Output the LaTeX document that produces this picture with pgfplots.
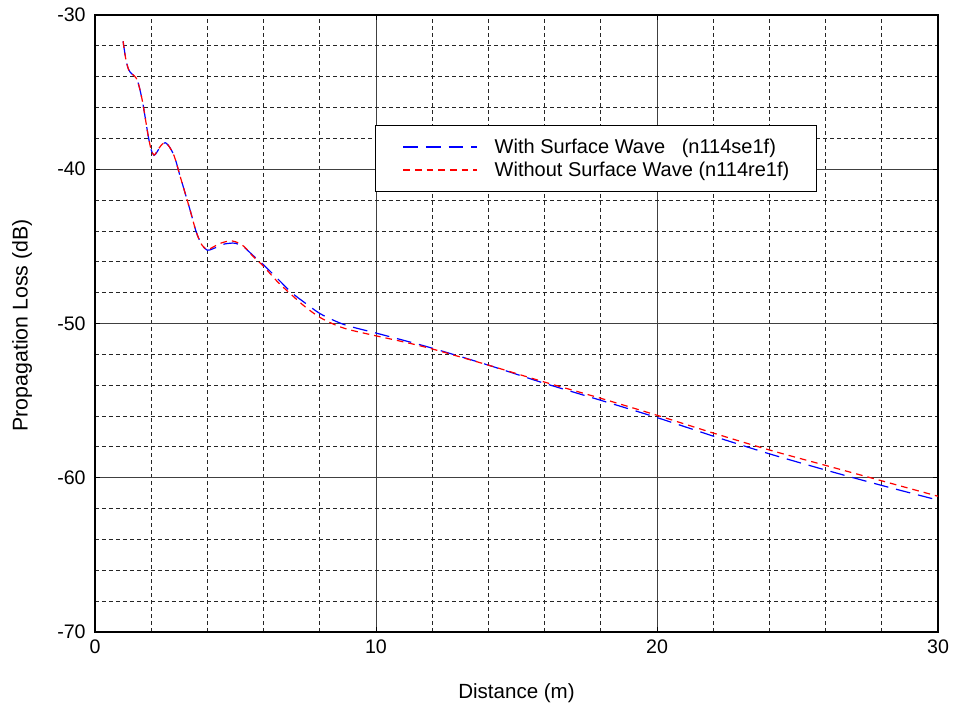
\documentclass[border=0pt]{standalone}
\usepackage{fontspec}
\setmainfont{Liberation Sans}
\usepackage{pgfplots}
\pgfplotsset{compat=1.18}

% Propagation loss versus distance, with and without the surface wave term
\pgfplotstableread{
x y
1.0 -31.7
1.1 -32.9
1.2 -33.55
1.3 -33.8
1.4 -33.95
1.5 -34.2
1.6 -34.85
1.7 -35.7
1.8 -36.8
1.9 -37.9
2.0 -38.75
2.1 -39.1
2.2 -38.9
2.3 -38.6
2.4 -38.35
2.5 -38.28
2.6 -38.43
2.7 -38.7
2.8 -39.06
2.9 -39.6
3.0 -40.27
3.2 -41.5
3.4 -42.75
3.6 -44.05
3.8 -44.9
4.0 -45.25
4.2 -45.15
4.4 -45.0
4.6 -44.85
4.8 -44.8
5.0 -44.8
5.3 -45.05
5.6 -45.55
6.0 -46.2
6.5 -47.1
7.0 -48.0
7.5 -48.7
8.0 -49.35
8.5 -49.8
9.0 -50.15
10.0 -50.62
11.0 -51.1
12.0 -51.6
14.0 -52.7
16.0 -53.88
18.0 -54.98
20.0 -56.1
22.0 -57.3
24.0 -58.45
26.0 -59.5
28.0 -60.5
30.0 -61.45
}\withsw

\pgfplotstableread{
x y
1.0 -31.7
1.1 -32.9
1.2 -33.55
1.3 -33.8
1.4 -33.95
1.5 -34.2
1.6 -34.85
1.7 -35.7
1.8 -36.8
1.9 -37.9
2.0 -38.75
2.1 -39.08
2.2 -38.86
2.3 -38.58
2.4 -38.36
2.5 -38.28
2.6 -38.43
2.7 -38.7
2.8 -39.06
2.9 -39.6
3.0 -40.27
3.2 -41.5
3.4 -42.75
3.6 -44.05
3.8 -44.9
4.0 -45.2
4.2 -45.05
4.4 -44.85
4.6 -44.72
4.8 -44.65
5.0 -44.7
5.3 -45.0
5.6 -45.6
6.0 -46.3
6.5 -47.3
7.0 -48.15
7.5 -48.95
8.0 -49.6
8.5 -50.05
9.0 -50.38
10.0 -50.8
11.0 -51.2
12.0 -51.65
14.0 -52.7
16.0 -53.8
18.0 -54.85
20.0 -55.95
22.0 -57.1
24.0 -58.2
26.0 -59.2
28.0 -60.2
30.0 -61.2
}\withoutsw

\begin{document}
\begin{tikzpicture}
\useasboundingbox (-71.25pt,-57.75pt) rectangle (643.5pt,474pt);
\begin{axis}[
  at={(0pt,0pt)}, anchor=south west,
  scale only axis, width=632.25pt, height=462.75pt,
  xmin=0, xmax=30, ymin=-70, ymax=-30,
  xtick={0,10,20,30}, xticklabels={0,10,20,30},
  ytick={-70,-60,-50,-40,-30}, yticklabels={-70,-60,-50,-40,-30},
  minor xtick={2,4,6,8,12,14,16,18,22,24,26,28},
  minor ytick={-68,-66,-64,-62,-58,-56,-54,-52,-48,-46,-44,-42,-38,-36,-34,-32},
  grid=both,
  major grid style={black!75, line width=0.6pt},
  minor grid style={black!85, dash pattern=on 3pt off 2.25pt, line width=0.6pt},
  axis line style={black, line width=1.1pt},
  tick style={black, line width=0.6pt},
  major tick length=4pt, minor tick length=0pt,
  tick align=inside,
  ticklabel style={font=\fontsize{14.7}{16}\selectfont},
  yticklabel style={xshift=-3.5pt},
  xticklabel style={yshift=-2pt},
  xlabel={Distance (m)},
  ylabel={Propagation Loss (dB)},
  xlabel style={font=\fontsize{15.4}{17}\selectfont,
    at={(axis description cs:0.5,-0.099)}, anchor=center},
  ylabel style={font=\fontsize{16}{18}\selectfont,
    at={(axis description cs:-0.0866,0.497)}, anchor=center},
  legend image code/.code={\draw[#1] (0pt,0pt) -- (55pt,0pt);},
  legend cell align=left,
  legend style={at={(0.332,0.8217)}, anchor=north west,
    draw=black, fill=white,
    font=\fontsize{15}{17}\selectfont,
    inner xsep=20.5pt, inner ysep=10pt, row sep=5pt,
    nodes={inner sep=0pt},
    /tikz/every odd column/.append style={column sep=13pt}},
]
\addlegendimage{draw=blue, line width=1.2pt, dash pattern=on 11pt off 6pt}
\addlegendentry{With Surface Wave\ \ \ (n114se1f)}
\addlegendimage{draw=red, line width=1.2pt, dash pattern=on 5pt off 3.75pt}
\addlegendentry{Without Surface Wave (n114re1f)}
\addplot[forget plot, blue, line width=0.9pt, dash pattern=on 11pt off 6pt, smooth, tension=0.5]
  table[x=x, y=y] {\withsw};
\addplot[forget plot, red, line width=0.9pt, dash pattern=on 5pt off 3.75pt, smooth, tension=0.5]
  table[x=x, y=y] {\withoutsw};
\end{axis}
\end{tikzpicture}
\end{document}
